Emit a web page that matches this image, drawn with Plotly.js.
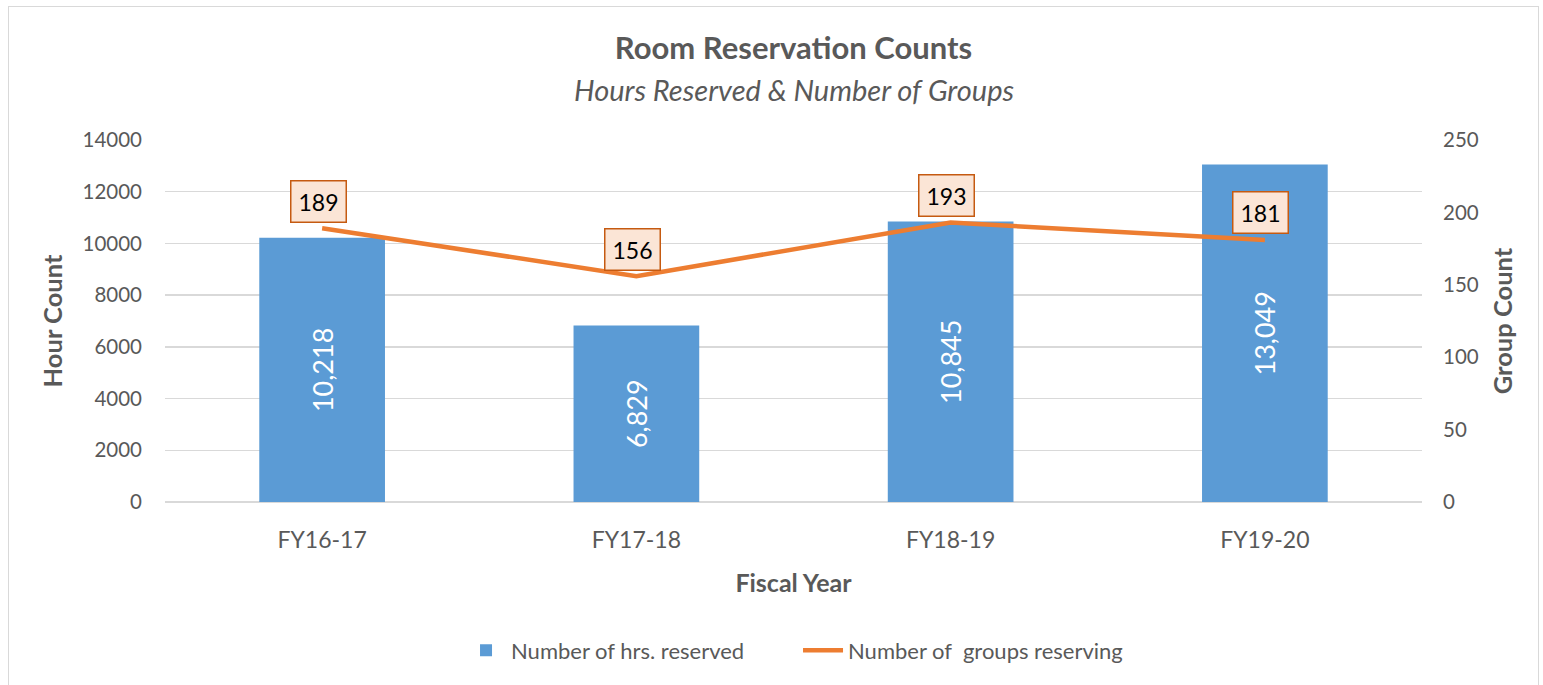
<!DOCTYPE html>
<html>
<head>
<meta charset="utf-8">
<script src="https://cdn.plot.ly/plotly-3.0.1.min.js"></script>
<style>
html,body{margin:0;padding:0;background:#fff;}
#wrap{position:relative;width:1543px;height:685px;overflow:hidden;}
#chart{position:absolute;left:0;top:0;width:1543px;height:685px;}
#frame{position:absolute;left:8px;top:6px;width:1529px;height:700px;border:1px solid #d9d9d9;pointer-events:none;}
</style>
</head>
<body>
<div id="wrap"><div id="chart"></div><div id="frame"></div></div>
<script>
const categories = ["FY16-17", "FY17-18", "FY18-19", "FY19-20"];
const hoursReserved = [10218, 6829, 10845, 13049];
const groupsReserving = [189, 156, 193, 181];
const seriesNames = ["Number of hrs. reserved", "Number of\u00A0 groups reserving"];

const FONT = "Lato, 'Open Sans', sans-serif";
const GRAY = "#595959";

const bars = {
  type: "bar",
  name: seriesNames[0],
  x: categories,
  y: hoursReserved,
  marker: {color: "#5B9BD5"},
  texttemplate: "%{y:,}",
  textposition: "inside",
  insidetextanchor: "middle",
  textangle: -90,
  textfont: {family: FONT, size: 27, color: "#ffffff"},
  legend: "legend",
  hoverinfo: "x+y"
};

const line = {
  type: "scatter",
  mode: "lines",
  name: seriesNames[1],
  x: categories,
  y: groupsReserving,
  yaxis: "y2",
  line: {color: "#ED7D31", width: 4.5},
  legend: "legend2",
  hoverinfo: "x+y"
};

const labelAnns = categories.map((c, i) => ({
  x: c, y: groupsReserving[i], xref: "x", yref: "y2",
  text: String(groupsReserving[i]),
  showarrow: false,
  xshift: -4, yshift: 27,
  font: {family: FONT, size: 23, color: "#000000"},
  bgcolor: "#FBE5D6",
  bordercolor: "#C55A11",
  borderwidth: 1.5,
  borderpad: 6,
  width: 42
}));

const legendBase = {
  orientation: "h", xanchor: "left", y: -0.41, yanchor: "middle",
  font: {family: FONT, size: 22, color: GRAY},
  itemwidth: 40
};

const layout = {
  width: 1543, height: 685,
  margin: {l: 165, r: 121, t: 140, b: 183},
  paper_bgcolor: "#ffffff",
  plot_bgcolor: "#ffffff",
  font: {family: FONT, color: GRAY},
  bargap: 0.6,
  showlegend: true,
  legend: Object.assign({}, legendBase, {x: 0.2355}),
  legend2: Object.assign({}, legendBase, {x: 0.5036}),
  xaxis: {
    type: "category",
    tickfont: {family: FONT, size: 23, color: GRAY},
    ticks: "", ticklabelstandoff: 22,
    showline: false, showgrid: false, zeroline: false,
    title: {text: "<b>Fiscal Year</b>", font: {family: FONT, size: 25, color: GRAY}, standoff: 22}
  },
  yaxis: {
    range: [0, 14000], dtick: 2000, tick0: 0,
    tickformat: "d",
    tickfont: {family: FONT, size: 20.5, color: GRAY},
    ticks: "", ticklabelstandoff: 22,
    showgrid: true, gridcolor: "#d9d9d9", gridwidth: 1.3,
    zeroline: true, zerolinecolor: "#d9d9d9", zerolinewidth: 1.3,
    showline: false,
    title: {text: "<b>Hour Count</b>", font: {family: FONT, size: 25.5, color: GRAY}, standoff: 12}
  },
  yaxis2: {
    overlaying: "y", side: "right",
    range: [0, 250], dtick: 50, tick0: 0,
    tickfont: {family: FONT, size: 20.5, color: GRAY},
    ticks: "", ticklabelstandoff: 20,
    showgrid: false, zeroline: false, showline: false,
    title: {text: "<b>Group Count</b>", font: {family: FONT, size: 25.5, color: GRAY}, standoff: 16}
  },
  title: {
    text: "<b>Room Reservation Counts</b>",
    font: {family: FONT, size: 31, color: GRAY},
    x: 0.5, xref: "paper", xanchor: "center",
    y: 48, yref: "container", yanchor: "middle"
  },
  annotations: labelAnns.concat([{
    text: "<i>Hours Reserved &amp; Number of Groups</i>",
    xref: "paper", yref: "paper", x: 0.5, y: (502 - 89) / 362,
    xanchor: "center", yanchor: "middle", showarrow: false,
    font: {family: FONT, size: 29, color: GRAY}
  }])
};
layout.title.y = 1 - 48 / 685;

Plotly.newPlot("chart", [bars, line], layout, {displayModeBar: false, staticPlot: true});
</script>
</body>
</html>
